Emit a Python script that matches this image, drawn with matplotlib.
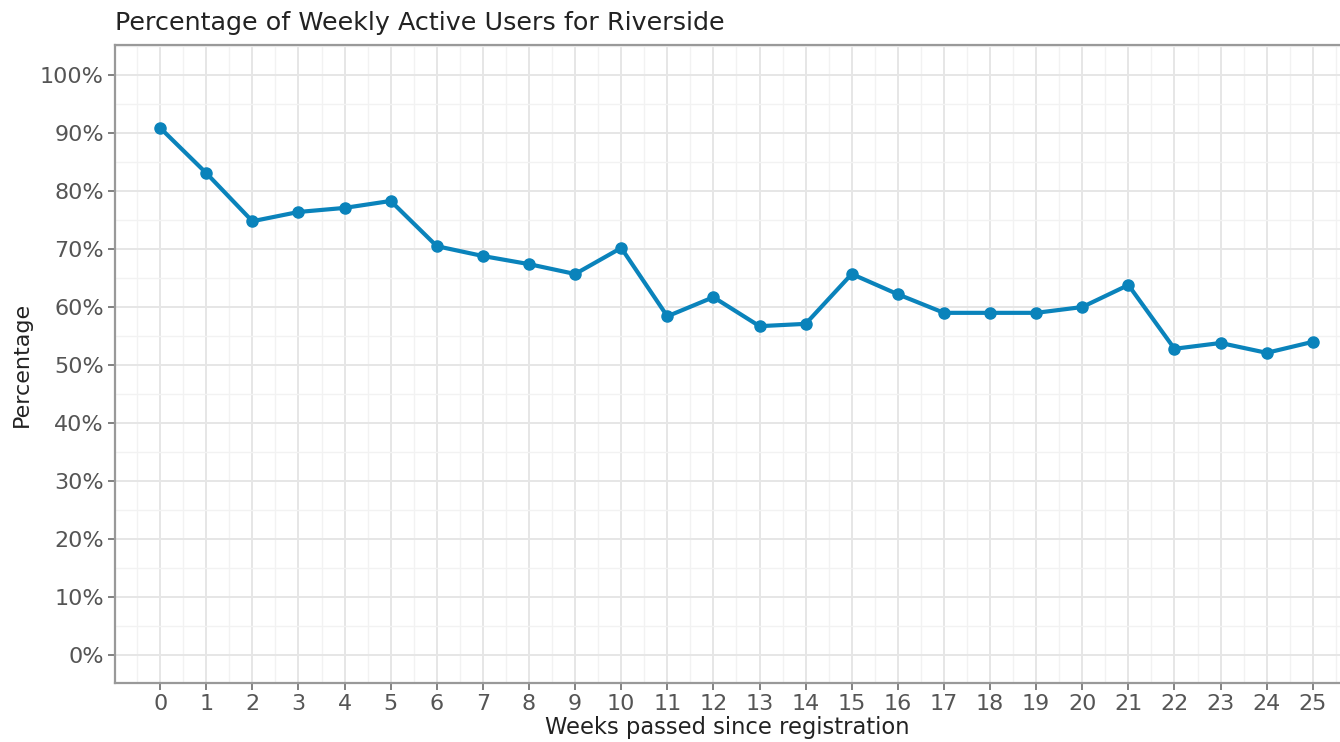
import matplotlib
matplotlib.use("Agg")
import matplotlib.pyplot as plt
from matplotlib.ticker import FuncFormatter, MultipleLocator

weeks = list(range(26))
pct = [90.9, 83.1, 74.8, 76.4, 77.1, 78.3, 70.5, 68.8, 67.4, 65.7,
       70.2, 58.4, 61.7, 56.7, 57.1, 65.7, 62.2, 59.0, 59.0, 59.0,
       60.0, 63.8, 52.8, 53.8, 52.1, 54.0]

fig = plt.figure(figsize=(13.4, 7.42), dpi=100)
ax = fig.add_axes([115 / 1340, 1 - 683 / 742, 1 - 115 / 1340, (683 - 45) / 742])

ax.plot(weeks, pct, color="#0a83bb", lw=3.0, marker="o", ms=8, zorder=3)

ax.set_xlim(-0.98, 25.59)
ax.set_ylim(-4.85, 105.2)
ax.xaxis.set_major_locator(MultipleLocator(1))
ax.xaxis.set_minor_locator(MultipleLocator(0.5))
ax.yaxis.set_major_locator(MultipleLocator(10))
ax.yaxis.set_minor_locator(MultipleLocator(5))
ax.yaxis.set_major_formatter(FuncFormatter(lambda v, _: f"{v:.0f}%"))

ax.grid(which="major", color="#e6e6e6", lw=1.4)
ax.grid(which="minor", color="#f2f2f2", lw=1.0)
ax.set_axisbelow(True)

for side in ("left", "bottom", "top"):
    ax.spines[side].set_color("#999999")
    ax.spines[side].set_linewidth(1.6)
ax.spines["right"].set_visible(False)

ax.tick_params(which="major", length=5, width=1.3, color="#777777",
               labelcolor="#555555", labelsize=16, pad=3)
ax.tick_params(which="minor", length=0)

ax.set_xlabel("Weeks passed since registration", fontsize=16.3,
              color="#222222", labelpad=1.5)
ax.set_ylabel("Percentage", fontsize=16, color="#222222", labelpad=6)
ax.set_title("Percentage of Weekly Active Users for Riverside", fontsize=18.3,
             loc="left", color="#222222", pad=11)

fig.savefig("out.png", dpi=100)
